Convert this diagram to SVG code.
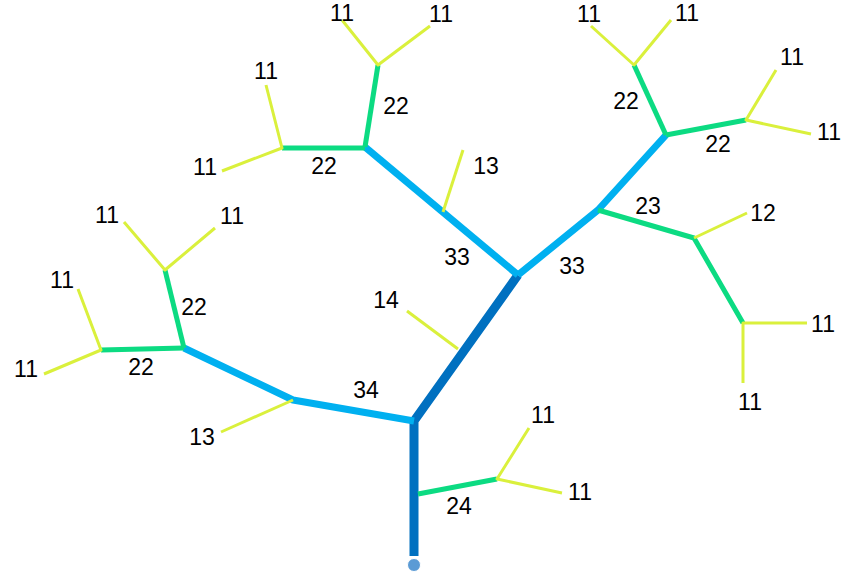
<svg xmlns="http://www.w3.org/2000/svg" width="844" height="577" viewBox="0 0 844 577">
<style>
.l{fill:none;stroke-linecap:butt;stroke-linejoin:round}
.d{stroke:#0070C0;stroke-width:9}
.b{stroke:#00B0F0;stroke-width:7}
.g{stroke:#0CDB82;stroke-width:5}
.y{stroke:#DAF03C;stroke-width:3}
text{font-family:"Liberation Sans",Arial,sans-serif;font-size:23px;fill:#000;text-anchor:middle;dominant-baseline:central}
</style>
<rect width="844" height="577" fill="#fff"/>
<g id="connectors" class="l">
<polyline class="d" points="414,556 414,421 518,275"/>
<polyline class="b" points="414,421 293,400 184,348"/>
<polyline class="b" points="518,275 365,147"/>
<polyline class="b" points="518,275 598,210 666,135"/>
<line class="g" x1="418" y1="494" x2="497" y2="479"/>
<line class="g" x1="184" y1="348" x2="101" y2="350"/>
<line class="g" x1="184" y1="348" x2="165" y2="270"/>
<line class="g" x1="365" y1="148" x2="282" y2="148"/>
<line class="g" x1="365" y1="147" x2="378" y2="65"/>
<polyline class="g" points="598,210 694,238 743,323"/>
<line class="g" x1="666" y1="135" x2="634" y2="65"/>
<line class="g" x1="666" y1="135" x2="746" y2="120"/>
<polyline class="y" points="529,428 497,479 562,493"/>
<line class="y" x1="458" y1="349" x2="407" y2="311"/>
<line class="y" x1="293" y1="400" x2="221" y2="432"/>
<polyline class="y" points="78,289 101,350 44,374"/>
<polyline class="y" points="124,222 165,270 215,228"/>
<line class="y" x1="443" y1="212" x2="463" y2="150"/>
<polyline class="y" points="266,85 282,148 222,171"/>
<polyline class="y" points="342,20 378,65 430,26"/>
<line class="y" x1="694" y1="238" x2="747" y2="213"/>
<polyline class="y" points="807,323 743,323 743,383"/>
<polyline class="y" points="591,26 634,65 671,20"/>
<polyline class="y" points="776,70 746,120 811,134"/>
</g>
<g id="root">
<circle cx="414" cy="565" r="6.5" fill="#5B9BD5" stroke="#fff" stroke-width="1"/>
</g>
<g id="labels">
<text x="459" y="506">24</text>
<text x="543" y="415">11</text>
<text x="580" y="492">11</text>
<text x="386" y="300">14</text>
<text x="366" y="390">34</text>
<text x="202" y="437">13</text>
<text x="141" y="367">22</text>
<text x="26" y="369">11</text>
<text x="62" y="280">11</text>
<text x="194" y="307">22</text>
<text x="107" y="215">11</text>
<text x="232" y="216">11</text>
<text x="457" y="257">33</text>
<text x="486" y="166">13</text>
<text x="324" y="166">22</text>
<text x="205" y="167">11</text>
<text x="266" y="71">11</text>
<text x="396" y="106">22</text>
<text x="342" y="13">11</text>
<text x="441" y="14">11</text>
<text x="572" y="266">33</text>
<text x="648" y="206">23</text>
<text x="763" y="213">12</text>
<text x="823" y="324">11</text>
<text x="750" y="402">11</text>
<text x="626" y="101">22</text>
<text x="589" y="14">11</text>
<text x="687" y="13">11</text>
<text x="718" y="144">22</text>
<text x="792" y="57">11</text>
<text x="829" y="132">11</text>
</g>
</svg>
